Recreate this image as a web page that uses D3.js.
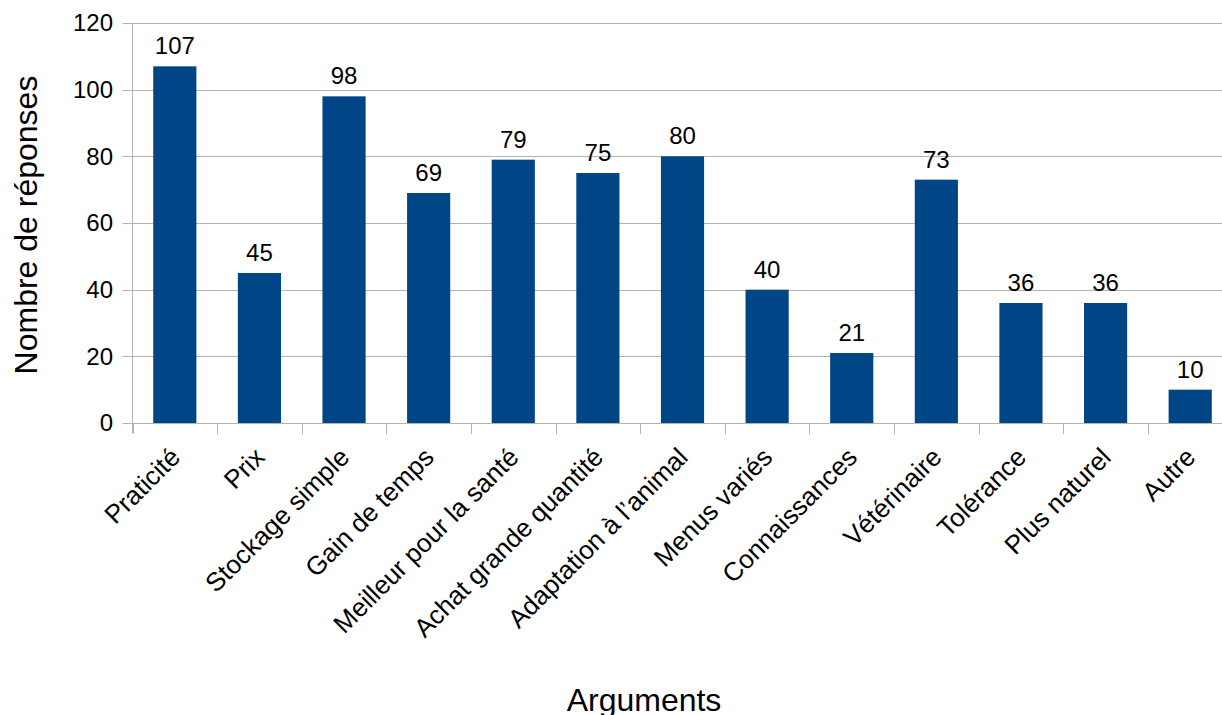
<!DOCTYPE html>
<html>
<head>
<meta charset="utf-8">
<script src="https://d3js.org/d3.v7.min.js"></script>
<style>
  body { margin: 0; background: #fff; }
  svg text { font-family: "Liberation Sans", Arial, sans-serif; fill: #000; }
</style>
</head>
<body>
<svg id="chart" width="1222" height="715"></svg>
<script>
// data
var categories = ["Praticité", "Prix", "Stockage simple", "Gain de temps", "Meilleur pour la santé",
                  "Achat grande quantité", "Adaptation à l\u2019animal", "Menus variés", "Connaissances",
                  "Vétérinaire", "Tolérance", "Plus naturel", "Autre"];
var values = [107, 45, 98, 69, 79, 75, 80, 40, 21, 73, 36, 36, 10];
var yTicks = [0, 20, 40, 60, 80, 100, 120];

var svg = d3.select("#chart");
var plotLeft = 132.5, plotRight = 1232.5, plotTop = 23, plotBottom = 423;

var x = d3.scaleBand().domain(categories).range([plotLeft, plotRight]).paddingInner(0.49).paddingOuter(0.245);
var xb = d3.scaleBand().domain(categories).range([plotLeft, plotRight]); // band edges for ticks
var y = d3.scaleLinear().domain([0, 120]).range([plotBottom, plotTop]);

// gridlines
svg.append("g").selectAll("line").data(yTicks).enter().append("line")
    .attr("x1", plotLeft - 10).attr("x2", 1222)
    .attr("y1", function(d) { return Math.round(y(d)) + 0.5; })
    .attr("y2", function(d) { return Math.round(y(d)) + 0.5; })
    .attr("stroke", "#b3b3b3").attr("stroke-width", 1);

// y axis line
svg.append("line").attr("x1", plotLeft).attr("x2", plotLeft)
    .attr("y1", plotTop).attr("y2", plotBottom + 10)
    .attr("stroke", "#b3b3b3");

// x ticks at band boundaries
svg.append("g").selectAll("line").data(categories).enter().append("line")
    .attr("x1", function(d) { return Math.round(xb(d)) + 0.5; })
    .attr("x2", function(d) { return Math.round(xb(d)) + 0.5; })
    .attr("y1", plotBottom).attr("y2", plotBottom + 11)
    .attr("stroke", "#b3b3b3");

// y tick labels
svg.append("g").selectAll("text").data(yTicks).enter().append("text")
    .attr("x", 113).attr("y", function(d) { return y(d); })
    .attr("dy", "0.35em")
    .attr("text-anchor", "end")
    .style("font-size", "24px")
    .text(function(d) { return d; });

// bars
svg.append("g").selectAll("rect").data(values).enter().append("rect")
    .attr("x", function(d, i) { return x(categories[i]); })
    .attr("width", x.bandwidth())
    .attr("y", function(d) { return y(d); })
    .attr("height", function(d) { return plotBottom - y(d); })
    .attr("fill", "#004586");

// value labels
svg.append("g").selectAll("text").data(values).enter().append("text")
    .attr("x", function(d, i) { return x(categories[i]) + x.bandwidth() / 2; })
    .attr("y", function(d) { return y(d) - 12; })
    .attr("text-anchor", "middle")
    .style("font-size", "24px")
    .text(function(d) { return d; });

// category labels, rotated
svg.append("g").selectAll("text").data(categories).enter().append("text")
    .attr("transform", function(d) {
        var cx = xb(d) + xb.bandwidth() / 2 - 6;
        return "translate(" + cx + "," + 446 + ") rotate(-45)";
    })
    .attr("text-anchor", "end")
    .attr("dy", "0.7em")
    .style("font-size", "26px")
    .text(function(d) { return d; });

// axis titles
svg.append("text")
    .attr("transform", "translate(37,225) rotate(-90)")
    .attr("text-anchor", "middle")
    .style("font-size", "32px")
    .text("Nombre de réponses");

svg.append("text")
    .attr("x", 644).attr("y", 711)
    .attr("text-anchor", "middle")
    .style("font-size", "32px")
    .text("Arguments");
</script>
</body>
</html>
